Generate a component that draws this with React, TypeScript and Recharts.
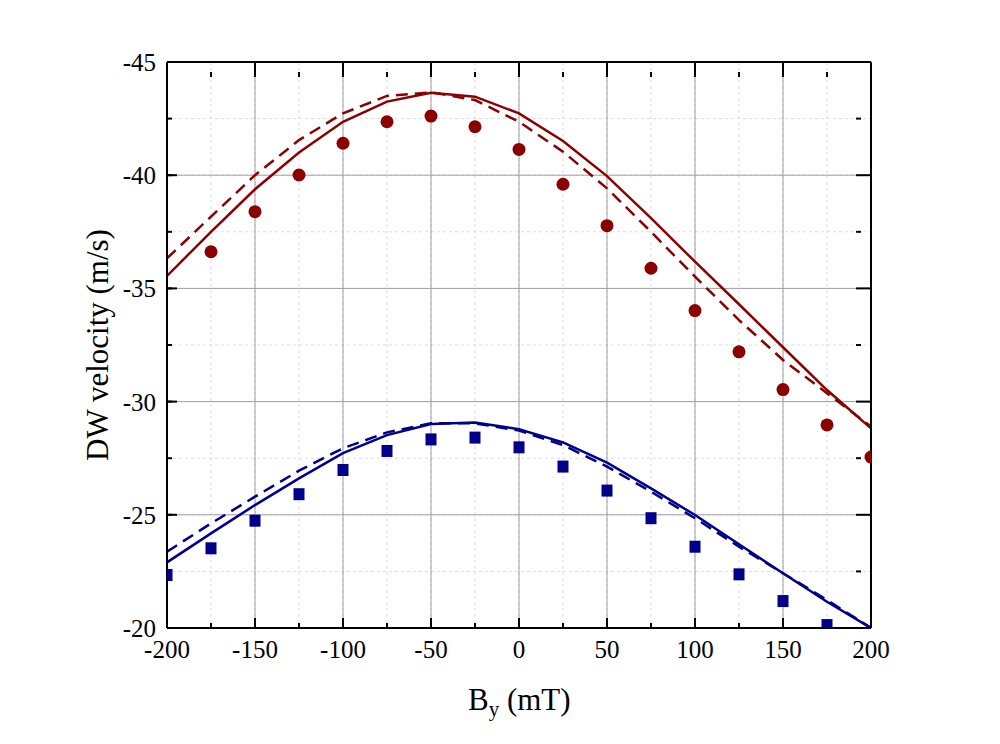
import React from 'react';
import { ComposedChart, Line, Scatter, XAxis, YAxis, CartesianGrid } from 'recharts';

// field B_y (mT)
const fieldMT = [-200, -175, -150, -125, -100, -75, -50, -25, 0, 25, 50, 75, 100, 125, 150, 175, 200];

// velocities (m/s)
const redMeasured = [null, -36.62, -38.39, -40.01, -41.41, -42.36, -42.61, -42.14, -41.14, -39.6, -37.77, -35.89, -34.02, -32.2, -30.53, -28.97, -27.55];
const redSolid = [-35.55, -37.5, -39.38, -41.0, -42.36, -43.25, -43.64, -43.47, -42.73, -41.51, -39.96, -38.1, -36.18, -34.3, -32.4, -30.51, -28.82];
const redDashed = [-36.33, -38.17, -40.0, -41.55, -42.73, -43.5, -43.66, -43.32, -42.36, -41.04, -39.42, -37.5, -35.52, -33.6, -31.84, -30.37, -28.9];

const blueMeasured = [-22.34, -23.52, -24.74, -25.91, -26.98, -27.82, -28.33, -28.41, -27.98, -27.13, -26.07, -24.85, -23.59, -22.37, -21.19, -20.13, null];
const blueSolid = [-22.9, -24.18, -25.43, -26.61, -27.72, -28.52, -29.01, -29.08, -28.78, -28.2, -27.3, -26.17, -24.99, -23.7, -22.42, -21.16, -20.0];
const blueDashed = [-23.37, -24.62, -25.8, -26.95, -27.94, -28.64, -29.04, -29.04, -28.72, -28.08, -27.13, -26.02, -24.85, -23.59, -22.42, -21.24, -20.0];

const xMajorTicks = [-200, -150, -100, -50, 0, 50, 100, 150, 200];
const xMinorTicks = [-200, -175, -150, -125, -100, -75, -50, -25, 0, 25, 50, 75, 100, 125, 150, 175, 200];
const yMajorTicks = [-45, -40, -35, -30, -25, -20];
const yMinorTicks = [-45, -42.5, -40, -37.5, -35, -32.5, -30, -27.5, -25, -22.5, -20];

const RED = '#8b0000';
const BLUE = '#00008b';
const FONT = '"Liberation Serif", "Times New Roman", serif';
const serif = { fontFamily: FONT };

const table = fieldMT.map((b, i) => ({
  b,
  redMeasured: redMeasured[i],
  redSolid: redSolid[i],
  redDashed: redDashed[i],
  blueMeasured: blueMeasured[i],
  blueSolid: blueSolid[i],
  blueDashed: blueDashed[i],
}));
const redDots = table.filter((r) => r.redMeasured != null);
const blueDots = table.filter((r) => r.blueMeasured != null);

const axisStroke = { stroke: '#000', strokeWidth: 2 };
const X_DOM: [number, number] = [-200, 200];
const Y_DOM: [number, number] = [-45, -20];

const noLabel = () => <g />;

const xTick = (p: any) => (
  <text x={p.x} y={p.y + 18} textAnchor="middle" fontSize={25} style={serif} fill="#000">
    {p.payload.value}
  </text>
);
const yTick = (p: any) => (
  <text x={p.x} y={p.y + 9} textAnchor="end" fontSize={25} style={serif} fill="#000">
    {p.payload.value}
  </text>
);

const circle = (p: any) => <circle cx={p.cx} cy={p.cy} r={6.5} fill={RED} />;
const square = (p: any) => <rect x={p.cx - 5.5} y={p.cy - 6} width={11} height={12} fill={BLUE} />;

const yTitle = () => (
  <text x={108} y={345} transform="rotate(-90, 108, 345)" textAnchor="middle" fontSize={31} style={serif} fill="#000">
    DW velocity (m/s)
  </text>
);

const xTitle = () => (
  <text x={468} y={710} fontSize={31} style={serif} fill="#000">
    <tspan>B</tspan>
    <tspan dy={6} fontSize={21}>y</tspan>
    <tspan dy={-6}> (mT)</tspan>
  </text>
);

export default function App() {
  return (
    <div style={{ position: 'absolute', left: 0, top: 0, background: '#fff', fontFamily: FONT }}>
      <ComposedChart width={1000} height={744} data={table} margin={{ top: 62, right: 129, bottom: 76, left: 107 }}>
        {/* mirrored helper axes: minor ticks on all sides, major ticks on top/right */}
        <XAxis xAxisId="minB" dataKey="b" type="number" domain={X_DOM} ticks={xMinorTicks} orientation="bottom" mirror height={10}
          allowDataOverflow axisLine={false} tick={noLabel} tickSize={5} tickLine={axisStroke} interval={0} />
        <XAxis xAxisId="minT" dataKey="b" type="number" domain={X_DOM} ticks={xMinorTicks} orientation="top" mirror height={10}
          allowDataOverflow axisLine={false} tick={noLabel} tickSize={5} tickLine={axisStroke} interval={0} />
        <YAxis yAxisId="minL" type="number" domain={Y_DOM} reversed ticks={yMinorTicks} orientation="left" mirror width={10}
          allowDataOverflow axisLine={false} tick={noLabel} tickSize={5} tickLine={axisStroke} interval={0} />
        <YAxis yAxisId="minR" type="number" domain={Y_DOM} reversed ticks={yMinorTicks} orientation="right" mirror width={10}
          allowDataOverflow axisLine={false} tick={noLabel} tickSize={5} tickLine={axisStroke} interval={0} />
        <XAxis xAxisId="majT" dataKey="b" type="number" domain={X_DOM} ticks={xMajorTicks} orientation="top" mirror height={10}
          allowDataOverflow axisLine={axisStroke} tickLine={axisStroke} tickSize={10} tick={noLabel} interval={0} />
        <YAxis yAxisId="majR" type="number" domain={Y_DOM} reversed ticks={yMajorTicks} orientation="right" mirror width={10}
          allowDataOverflow axisLine={axisStroke} tickLine={axisStroke} tickSize={10} tick={noLabel} interval={0} />

        <CartesianGrid xAxisId="minB" yAxisId="minL" stroke="#dcdcdc" strokeDasharray="3 3" />
        <CartesianGrid xAxisId={0} yAxisId={0} stroke="#a0a0a0" />

        {/* main axes */}
        <XAxis xAxisId={0} dataKey="b" type="number" domain={X_DOM} ticks={xMajorTicks} orientation="bottom" height={40}
          allowDataOverflow axisLine={axisStroke} tickLine={axisStroke} tickSize={-10} tickMargin={22} tick={xTick}
          interval={0} label={xTitle} />
        <YAxis yAxisId={0} type="number" domain={Y_DOM} reversed ticks={yMajorTicks} orientation="left" width={60}
          allowDataOverflow axisLine={axisStroke} tickLine={axisStroke} tickSize={-10} tickMargin={21} tick={yTick}
          interval={0} label={yTitle} />

        <Line dataKey="redSolid" stroke={RED} strokeWidth={2.5} dot={false} activeDot={false} isAnimationActive={false} />
        <Line dataKey="redDashed" stroke={RED} strokeWidth={2.5} strokeDasharray="12 7" dot={false} activeDot={false} isAnimationActive={false} />
        <Line dataKey="blueSolid" stroke={BLUE} strokeWidth={2.5} dot={false} activeDot={false} isAnimationActive={false} />
        <Line dataKey="blueDashed" stroke={BLUE} strokeWidth={2.5} strokeDasharray="12 7" dot={false} activeDot={false} isAnimationActive={false} />
        <Scatter data={redDots} dataKey="redMeasured" shape={circle} isAnimationActive={false} />
        <Scatter data={blueDots} dataKey="blueMeasured" shape={square} isAnimationActive={false} />
      </ComposedChart>
    </div>
  );
}
